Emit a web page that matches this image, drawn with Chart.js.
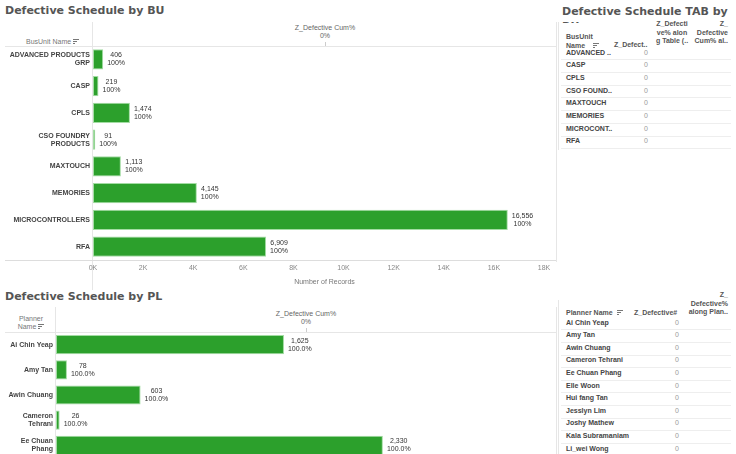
<!DOCTYPE html>
<html>
<head>
<meta charset="utf-8">
<script src="https://cdn.jsdelivr.net/npm/chart.js@4"></script>
<style>
  html, body { margin: 0; padding: 0; background: #fff; }
  body { width: 736px; height: 454px; position: relative; overflow: hidden; font-family: "Liberation Sans", Arial, sans-serif; }
  .abs { position: absolute; white-space: nowrap; }
  .title { font-family: "DejaVu Sans", sans-serif; font-weight: bold; font-size: 11px; color: #555; }
  .hdr { font-size: 7px; color: #666; line-height: 8px; }
  .th { font-size: 7px; color: #555; line-height: 8.5px; font-weight: bold; }
  .row { font-size: 7px; font-weight: bold; color: #444; }
  .zero { font-size: 7px; color: #999; }
  .hl { position: absolute; height: 1px; background: #e6e6e6; }
  .vl { position: absolute; width: 1px; background: #e6e6e6; }
  canvas { position: absolute; }
  .sort { display: inline-block; width: 6px; height: 6px; margin-left: 2px; vertical-align: -1px;
    background: linear-gradient(#777,#777) 0 0/6px 1px no-repeat, linear-gradient(#777,#777) 0 2px/4px 1px no-repeat, linear-gradient(#777,#777) 0 4px/2px 1px no-repeat; }
</style>
</head>
<body>
<div class="abs title" style="left:5px;top:4px;">Defective Schedule by BU</div>
<div class="abs title" style="left:562px;top:4px;width:170px;height:19px;overflow:hidden;white-space:normal;line-height:15px;">Defective Schedule TAB by BU</div>
<div class="abs title" style="left:5px;top:290px;">Defective Schedule by PL</div>

<!-- top panel frame -->
<div class="vl" style="left:92px;top:22px;height:268px;"></div>
<div class="vl" style="left:556px;top:22px;height:240px;"></div>
<div class="hl" style="left:5px;top:46px;width:551px;"></div>
<div class="hl" style="left:5px;top:260px;width:551px;background:#ddd;"></div>
<div class="abs hdr" style="left:265px;top:24px;width:120px;text-align:center;">Z_Defective Cum%<br>0%</div>
<div class="vl" style="left:325px;top:42px;height:4px;background:#ccc;"></div>
<div class="abs hdr" style="left:26px;top:38px;color:#777;">BusUnit Name<span class="sort"></span></div>

<!-- bottom panel frame -->
<div class="vl" style="left:55px;top:307px;height:150px;"></div>
<div class="vl" style="left:556px;top:307px;height:150px;"></div>
<div class="hl" style="left:5px;top:332px;width:551px;"></div>
<div class="abs hdr" style="left:246px;top:310px;width:120px;text-align:center;">Z_Defective Cum%<br>0%</div>
<div class="vl" style="left:306px;top:328px;height:4px;background:#ccc;"></div>
<div class="abs hdr" style="left:8px;top:315px;width:46px;text-align:center;color:#777;">Planner<br>Name<span class="sort"></span></div>

<!-- table frames -->
<div class="vl" style="left:558px;top:22px;height:128px;"></div>
<div class="vl" style="left:558px;top:300px;height:154px;"></div>
<div class="abs th" style="left:566px;top:33px;">BusUnit<br>Name<span class="sort" style="margin-left:8px"></span></div>
<div class="abs th" style="left:614px;top:41px;">Z_Defect..</div>
<div class="abs th" style="left:651px;top:20px;width:42px;text-align:center;">Z_Defecti<br>ve% alon<br>g Table (..</div>
<div class="abs th" style="left:686px;top:20px;width:42px;text-align:right;">Z_<br>Defective<br>Cum% al..</div>
<div class="abs th" style="left:686px;top:291px;width:42px;text-align:right;">Z_<br>Defective%<br>along Plan..</div>
<div class="abs th" style="left:566px;top:309px;">Planner Name<span class="sort" style="margin-left:4px"></span></div>
<div class="abs th" style="left:634px;top:309px;">Z_Defective#</div>

<canvas id="buChart" width="556" height="240" style="left:0;top:46px;"></canvas>
<canvas id="plChart" width="556" height="126" style="left:0;top:332px;"></canvas>

<script>
// Defective Schedule by BU
const buNames = ['ADVANCED PRODUCTS GRP', 'CASP', 'CPLS', 'CSO FOUNDRY PRODUCTS', 'MAXTOUCH', 'MEMORIES', 'MICROCONTROLLERS', 'RFA'];
const buRecords = [406, 219, 1474, 91, 1113, 4145, 16556, 6909];
const buCumPct = ['100%', '100%', '100%', '100%', '100%', '100%', '100%', '100%'];
const buTicks = [0, 2000, 4000, 6000, 8000, 10000, 12000, 14000, 16000, 18000];

// Defective Schedule by PL (rows visible in the view)
const plNames = ['Ai Chin Yeap', 'Amy Tan', 'Awin Chuang', 'Cameron Tehrani', 'Ee Chuan Phang'];
const plRecords = [1625, 78, 603, 26, 2330];
const plCumPct = ['100.0%', '100.0%', '100.0%', '100.0%', '100.0%'];

// tables
const tabBuNames = ['ADVANCED ..', 'CASP', 'CPLS', 'CSO FOUND..', 'MAXTOUCH', 'MEMORIES', 'MICROCONT..', 'RFA'];
const tabBuDefect = [0, 0, 0, 0, 0, 0, 0, 0];
const tabPlNames = ['Ai Chin Yeap', 'Amy Tan', 'Awin Chuang', 'Cameron Tehrani', 'Ee Chuan Phang', 'Elle Woon',
  'Hui fang Tan', 'Jesslyn Lim', 'Joshy Mathew', 'Kala Subramaniam', 'Li_wei Wong'];
const tabPlDefect = [0, 0, 0, 0, 0, 0, 0, 0, 0, 0, 0];

const FONT = '"Liberation Sans", Arial, sans-serif';
const GREEN = '#2ca02c';

// split a name into lines of at most n chars
function wrap(s, n) {
  const out = [];
  let cur = '';
  s.split(' ').forEach(w => {
    if (cur && (cur + ' ' + w).length > n) { out.push(cur); cur = w; }
    else cur = cur ? cur + ' ' + w : w;
  });
  out.push(cur);
  return out;
}

// value + percent written to the right of each bar
const barLabels = {
  id: 'barLabels',
  afterDatasetsDraw(chart, args, opts) {
    const ctx = chart.ctx;
    const ds = chart.data.datasets[0];
    ctx.save();
    ctx.font = '7px ' + FONT;
    ctx.fillStyle = '#333';
    ctx.textAlign = 'center';
    ctx.textBaseline = 'middle';
    chart.getDatasetMeta(0).data.forEach((bar, i) => {
      const l1 = ds.data[i].toLocaleString('en-US');
      const l2 = opts.pct[i];
      const w = Math.max(ctx.measureText(l1).width, ctx.measureText(l2).width);
      const cx = bar.x + 4 + w / 2;
      ctx.fillText(l1, cx, bar.y - 4);
      ctx.fillText(l2, cx, bar.y + 4);
    });
    ctx.restore();
  }
};

function barChart(id, names, values, pct, opt) {
  return new Chart(document.getElementById(id), {
    type: 'bar',
    data: {
      labels: names,
      datasets: [{
        data: values,
        backgroundColor: GREEN,
        borderColor: '#a3dca3',
        borderWidth: 1,
        borderSkipped: false,
        barPercentage: 0.76,
        categoryPercentage: 1
      }]
    },
    options: {
      indexAxis: 'y',
      responsive: false,
      animation: false,
      layout: { padding: 0 },
      plugins: { legend: { display: false }, tooltip: { enabled: false }, barLabels: { pct: pct } },
      scales: {
        x: {
          display: opt.showX,
          min: 0,
          max: opt.max,
          afterBuildTicks: s => { if (opt.ticks) s.ticks = opt.ticks.map(v => ({ value: v })); },
          afterFit: s => { s.height = opt.showX ? 26 : 0; s.paddingLeft = 0; s.paddingRight = 0; },
          grid: { display: false, drawTicks: false },
          border: { display: false },
          ticks: {
            autoSkip: false, maxRotation: 0, padding: 4,
            color: '#888', font: { family: FONT, size: 7 },
            callback: v => (v / 1000) + 'K'
          },
          title: { display: true, text: 'Number of Records', color: '#777', font: { family: FONT, size: 7 }, padding: { top: 3, bottom: 0 } }
        },
        y: {
          afterFit: s => { s.width = opt.axisW; s.paddingTop = 0; s.paddingBottom = 0; },
          grid: { display: false, drawTicks: false },
          border: { display: false },
          ticks: {
            autoSkip: false,
            padding: 3,
            color: '#444',
            font: { family: FONT, size: 7, weight: 'bold', lineHeight: 1.15 },
            callback: (v, i) => wrap(names[i], opt.wrapN)
          }
        }
      }
    },
    plugins: [barLabels]
  });
}

barChart('buChart', buNames, buRecords, buCumPct, { showX: true, max: 18480, ticks: buTicks, axisW: 93, wrapN: 17 });
barChart('plChart', plNames, plRecords, plCumPct, { showX: false, max: 3564, ticks: null, axisW: 56, wrapN: 12 });

// right-hand text tables
function table(names, vals, top, step, zeroX) {
  names.forEach((n, i) => {
    const y = top + step * i;
    const r = document.createElement('div');
    r.className = 'abs row';
    r.style.cssText = 'left:566px;top:' + (y - 4.5) + 'px;';
    r.textContent = n;
    document.body.appendChild(r);
    const z = document.createElement('div');
    z.className = 'abs zero';
    z.style.cssText = 'left:' + (zeroX - 30) + 'px;top:' + (y - 4.5) + 'px;width:30px;text-align:right;';
    z.textContent = vals[i];
    document.body.appendChild(z);
    const l = document.createElement('div');
    l.className = 'hl';
    l.style.cssText = 'left:561px;width:170px;top:' + Math.round(y + step / 2) + 'px;background:#eee;';
    document.body.appendChild(l);
  });
}
table(tabBuNames, tabBuDefect, 53, 12.7, 648);
table(tabPlNames, tabPlDefect, 323, 12.6, 679);
</script>
</body>
</html>
